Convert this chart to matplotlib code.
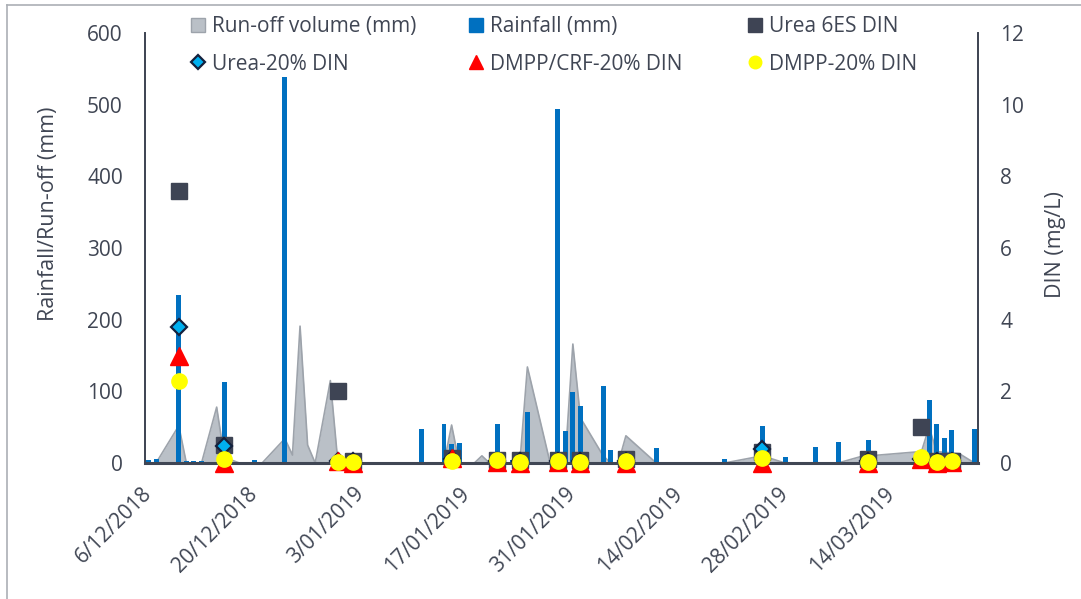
import matplotlib.pyplot as plt
import matplotlib.dates as mdates
from matplotlib.lines import Line2D
from matplotlib.patches import Patch
from matplotlib.ticker import FuncFormatter
import pandas as pd

plt.rcParams['font.family'] = ['Open Sans', 'DejaVu Sans']

# rainfall (mm), daily bars
rain_dates = ['2018-12-06', '2018-12-07', '2018-12-10', '2018-12-11', '2018-12-12', '2018-12-13',
              '2018-12-16', '2018-12-20', '2018-12-24', '2019-01-11', '2019-01-14', '2019-01-15',
              '2019-01-16', '2019-01-21', '2019-01-23', '2019-01-25', '2019-01-29', '2019-01-30',
              '2019-01-31', '2019-02-01', '2019-02-04', '2019-02-05', '2019-02-07', '2019-02-11',
              '2019-02-20', '2019-02-25', '2019-02-28', '2019-03-04', '2019-03-07', '2019-03-11',
              '2019-03-19', '2019-03-20', '2019-03-21', '2019-03-22', '2019-03-25']
rain_mm = [4, 5, 234, 3, 3, 3,
           113, 4, 538, 48, 55, 26,
           28, 54, 4, 71, 494, 44,
           99, 80, 108, 18, 15, 21,
           5, 52, 8, 22, 30, 32,
           88, 54, 35, 46, 47]

# run-off volume (mm)
runoff_dates = ['2018-12-07', '2018-12-10', '2018-12-11', '2018-12-13', '2018-12-15', '2018-12-16',
                '2018-12-18', '2018-12-21', '2018-12-24', '2018-12-25', '2018-12-26', '2018-12-27',
                '2018-12-28', '2018-12-30', '2018-12-31', '2019-01-14', '2019-01-15', '2019-01-16',
                '2019-01-18', '2019-01-19', '2019-01-20', '2019-01-24', '2019-01-25', '2019-01-28',
                '2019-01-29', '2019-01-30', '2019-01-31', '2019-02-01', '2019-02-04', '2019-02-05',
                '2019-02-06', '2019-02-07', '2019-02-11', '2019-02-20', '2019-02-25', '2019-02-28',
                '2019-03-07', '2019-03-10', '2019-03-18', '2019-03-19', '2019-03-20', '2019-03-23',
                '2019-03-25']
runoff_mm = [0, 52, 0, 0, 78, 8,
             0, 0, 34, 11, 191, 25,
             0, 115, 0, 0, 53, 0,
             0, 10, 0, 0, 134, 0,
             0, 5, 166, 63, 10, 0,
             0, 38, 0, 0, 10, 0,
             0, 9, 16, 50, 16, 13,
             0]

# DIN (mg/L) of run-off samples
sample_dates = ['2018-12-10', '2018-12-16', '2018-12-31', '2019-01-02', '2019-01-15', '2019-01-21',
                '2019-01-24', '2019-01-29', '2019-02-01', '2019-02-07', '2019-02-25', '2019-03-11',
                '2019-03-18', '2019-03-20', '2019-03-22']
urea_6es = [7.6, 0.5, 2.0, 0.05, 0.15, 0.08, 0.08, 0.08, 0.08, 0.1, 0.3, 0.1, 1.0, 0.05, 0.05]
urea_20 = [3.8, 0.48, 0.05, 0.05, 0.1, 0.05, 0.05, 0.05, 0.05, 0.05, 0.38, 0.05, 0.1, 0.05, 0.05]
dmpp_crf_20 = [3.0, 0.0, 0.05, 0.0, 0.15, 0.02, 0.0, 0.03, 0.0, 0.0, 0.0, 0.0, 0.1, 0.0, 0.02]
dmpp_20 = [2.3, 0.1, 0.03, 0.03, 0.05, 0.07, 0.03, 0.06, 0.04, 0.06, 0.13, 0.02, 0.17, 0.03, 0.05]

tick_dates = pd.date_range('2018-12-06', '2019-03-14', freq='14D')

text_col = '#404654'
rain_col = '#0070C0'
area_fill = '#BAC0C7'
area_edge = '#9DA3AB'
sq_col = '#3E4454'
dia_col = '#00B0F0'
dia_edge = '#14213D'

rain_x = pd.to_datetime(rain_dates)
runoff_x = pd.to_datetime(runoff_dates)
sample_x = pd.to_datetime(sample_dates)

fig = plt.figure(figsize=(10.81, 5.99), dpi=100)
ax = fig.add_axes([145 / 1081, 1 - 463 / 599, 833 / 1081, 430 / 599])
ax2 = ax.twinx()

ax.fill_between(runoff_x, 0, runoff_mm, color=area_fill, lw=0, zorder=1)
ax.plot(runoff_x, runoff_mm, color=area_edge, lw=1.2, zorder=1.5)
ax.bar(rain_x, rain_mm, width=0.65, color=rain_col, zorder=2)

ax2.plot(sample_x, urea_6es, 's', ms=11, color=sq_col, zorder=3, clip_on=False)
ax2.plot(sample_x, urea_20, 'D', ms=8.4, mfc=dia_col, mec=dia_edge, mew=1.6, zorder=4, clip_on=False)
ax2.plot(sample_x, dmpp_crf_20, '^', ms=13, color='#FF0000', zorder=5, clip_on=False)
ax2.plot(sample_x, dmpp_20, 'o', ms=11, color='#FFFF00', zorder=6, clip_on=False)

start = pd.Timestamp('2018-12-06') - pd.Timedelta(hours=11)
end = pd.Timestamp('2019-03-25') + pd.Timedelta(hours=11)
ax.set_xlim(start, end)
ax.set_ylim(0, 600)
ax2.set_ylim(0, 12)
ax.set_yticks(range(0, 601, 100))
ax2.set_yticks(range(0, 13, 2))
ax.set_xticks(tick_dates)


def fmt_date(v, pos):
    d = mdates.num2date(v)
    return f'{d.day}/{d.month:02d}/{d.year}'


ax.xaxis.set_major_formatter(FuncFormatter(fmt_date))
for lab in ax.get_xticklabels():
    lab.set_rotation(45)
    lab.set_ha('right')
    lab.set_va('center')
    lab.set_rotation_mode('anchor')

for a in (ax, ax2):
    a.tick_params(length=0, labelsize=15, colors=text_col, pad=16)
    a.spines['top'].set_visible(False)
    for s in ('left', 'right', 'bottom'):
        a.spines[s].set_color(text_col)
        a.spines[s].set_linewidth(1.3)
ax.spines['bottom'].set_linewidth(2.2)
ax.tick_params(axis='x', pad=20)
ax.patch.set_visible(False)

ax.set_ylabel('Rainfall/Run-off (mm)', fontsize=15.5, color=text_col)
ax.yaxis.set_label_coords(-0.103, 0.58)
ax2.set_ylabel('DIN (mg/L)', fontsize=15.5, color=text_col, rotation=90)
ax2.yaxis.set_label_coords(1.08, 0.507)

# legend: three columns placed like the original
fs = 15
col_handles = [
    [Patch(color=area_fill, ec=area_edge), Line2D([], [], ls='', marker='D', ms=8.4, mfc=dia_col, mec=dia_edge, mew=1.6)],
    [Patch(color=rain_col), Line2D([], [], ls='', marker='^', ms=13, color='#FF0000')],
    [Patch(color=sq_col), Line2D([], [], ls='', marker='o', ms=11, color='#FFFF00')],
]
col_labels = [
    ['Run-off volume (mm)', 'Urea-20% DIN'],
    ['Rainfall (mm)', 'DMPP/CRF-20% DIN'],
    ['Urea 6ES DIN', 'DMPP-20% DIN'],
]
col_x = [191, 469, 748]
for hs, ls, x in zip(col_handles, col_labels, col_x):
    fig.legend(hs, ls, loc='upper left', bbox_to_anchor=(x / 1081, 1 - 16 / 599),
               frameon=False, fontsize=fs, handlelength=0.68, handleheight=0.68,
               handletextpad=0.35, borderpad=0, borderaxespad=0, labelspacing=0.8,
               markerscale=0.82, labelcolor=text_col)

# outer chart border
fig.add_artist(Line2D([6.5 / 1081, 6.5 / 1081], [0, 1 - 5 / 599], transform=fig.transFigure,
                      color='#ABAFB5', lw=1.2))
fig.add_artist(Line2D([6.5 / 1081, 1], [1 - 5 / 599, 1 - 5 / 599], transform=fig.transFigure,
                      color='#ABAFB5', lw=1.2))

fig.savefig('out.png', dpi=100)
